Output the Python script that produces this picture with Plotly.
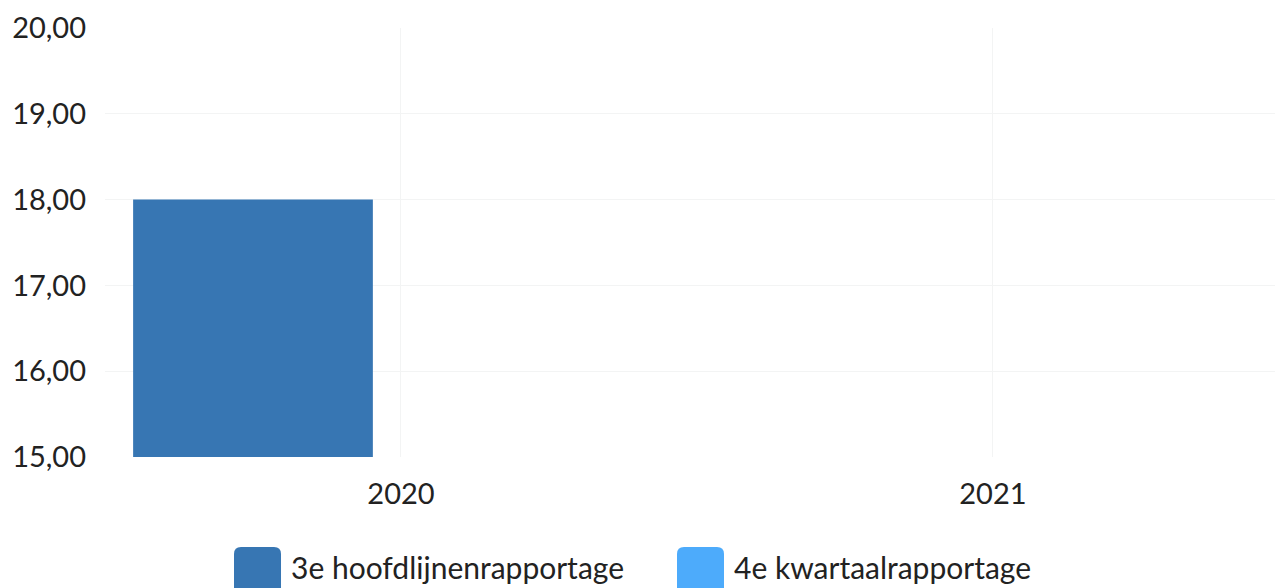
import plotly.graph_objects as go

# data
years = ['2020', '2021']
series_names = ['3e hoofdlijnenrapportage', '4e kwartaalrapportage']
hoofdlijnen = [18.0, None]
kwartaal = [None, None]
colors = ['#3776b3', '#4dabfb']

# the html page puts the figure 8px in from the corner
OFF = 8
W, H = 1283 - OFF, 588 - OFF
ML, MR, MT, MB = 105 - OFF, 0, 28 - OFF, 588 - 457
PW, PH = W - ML - MR, H - MT - MB


def px_to_paper(px, py):
    # page pixel position -> paper coordinates
    px, py = px - OFF, py - OFF
    return (px - ML) / PW, (H - MB - py) / PH


def rounded_box(x0, y0, x1, y1, r):
    # rounded rectangle path, pixel inputs, paper coordinates out
    def p(x, y):
        a, b = px_to_paper(x, y)
        return f'{a:.5f},{b:.5f}'
    return (f'M {p(x0 + r, y0)} L {p(x1 - r, y0)} Q {p(x1, y0)} {p(x1, y0 + r)} '
            f'L {p(x1, y1 - r)} Q {p(x1, y1)} {p(x1 - r, y1)} '
            f'L {p(x0 + r, y1)} Q {p(x0, y1)} {p(x0, y1 - r)} '
            f'L {p(x0, y0 + r)} Q {p(x0, y0)} {p(x0 + r, y0)} Z')


fig = go.Figure()
fig.add_trace(go.Bar(x=years, y=hoofdlijnen, name=series_names[0],
                     marker=dict(color=colors[0], line=dict(width=0))))
fig.add_trace(go.Bar(x=years, y=kwartaal, name=series_names[1],
                     marker=dict(color=colors[1], line=dict(width=0))))

# custom legend (big rounded swatches)
legend_pos = [(234, 289), (677, 732)]
for (sx, tx), name, col in zip(legend_pos, series_names, colors):
    fig.add_shape(type='path', xref='paper', yref='paper',
                  path=rounded_box(sx, 547, sx + 47, 594, 7),
                  fillcolor=col, line=dict(width=0), layer='above')
    ax, ay = px_to_paper(tx, 567)
    fig.add_annotation(x=ax, y=ay, xref='paper', yref='paper', text=name,
                       showarrow=False, xanchor='left', yanchor='middle',
                       font=dict(size=30, color='#222222'))

fig.update_layout(
    width=W, height=H,
    margin=dict(l=ML, r=MR, t=MT, b=MB, pad=0),
    paper_bgcolor='white',
    plot_bgcolor='white',
    font=dict(family='Lato', size=29, color='#222222'),
    separators=',.',
    barmode='group',
    bargap=0,
    bargroupgap=0.19,
    showlegend=False,
    xaxis=dict(type='category', range=[-0.5, 1.49], showgrid=True,
               gridcolor='#f3f4f4', gridwidth=1, ticks='', showline=False,
               zeroline=False, ticklabelstandoff=17),
    yaxis=dict(range=[15, 20], dtick=1, tickformat='.2f', showgrid=True,
               gridcolor='#f3f4f4', gridwidth=1, ticks='', showline=False,
               zeroline=False, ticklabelstandoff=18),
)

fig.write_html('out.html')
